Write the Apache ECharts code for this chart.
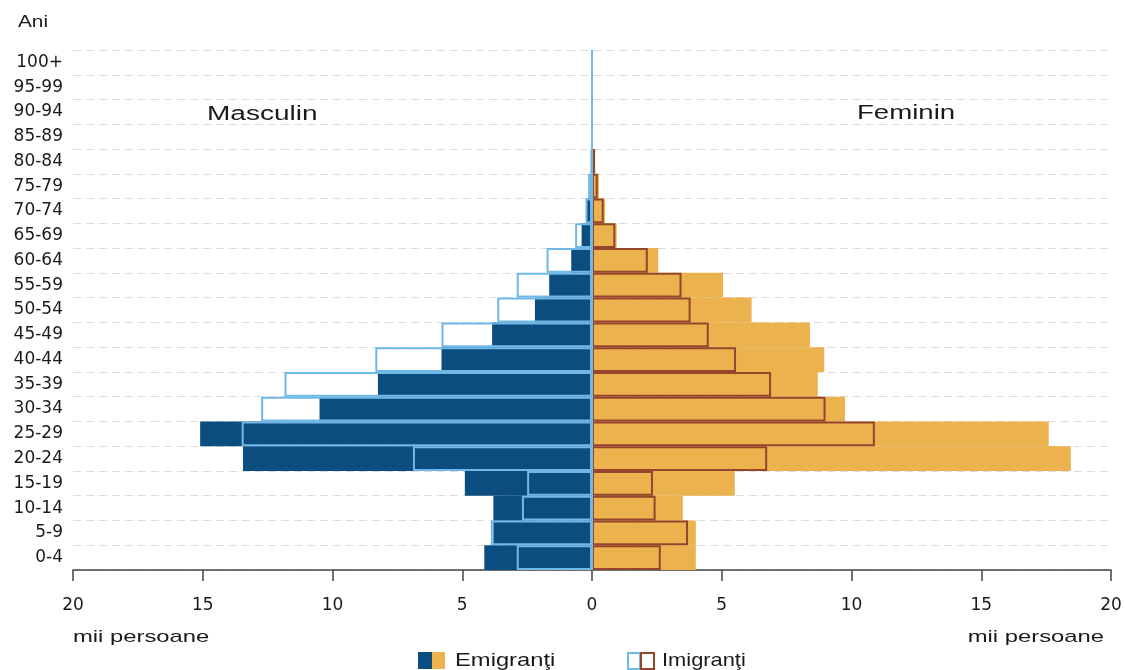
<!DOCTYPE html>
<html>
<head>
<meta charset="utf-8">
<script src="https://cdn.jsdelivr.net/npm/echarts@6/dist/echarts.min.js"></script>
<style>html,body{margin:0;padding:0;background:#fff;}#c{width:1125px;height:670px;}</style>
</head>
<body>
<div id="c"></div>
<script>
var ageGroups = ['0-4','5-9','10-14','15-19','20-24','25-29','30-34','35-39','40-44','45-49','50-54','55-59','60-64','65-69','70-74','75-79','80-84','85-89','90-94','95-99','100+'];
var maleEmigrants   = [4.15, 3.8, 3.8, 4.9, 13.45, 15.1, 10.5, 8.25, 5.8, 3.85, 2.2, 1.65, 0.8, 0.4, 0.22, 0.08, 0.03, 0, 0, 0, 0];
var maleImmigrants  = [2.9, 3.9, 2.7, 2.5, 6.9, 13.5, 12.75, 11.85, 8.35, 5.8, 3.65, 2.9, 1.75, 0.65, 0.25, 0.15, 0.05, 0, 0, 0, 0];
var femaleEmigrants = [4.0, 4.0, 3.5, 5.5, 18.45, 17.6, 9.75, 8.7, 8.95, 8.4, 6.15, 5.05, 2.55, 0.95, 0.5, 0.27, 0.1, 0, 0, 0, 0];
var femaleImmigrants= [2.65, 3.7, 2.45, 2.35, 6.75, 10.9, 9.0, 6.9, 5.55, 4.5, 3.8, 3.45, 2.15, 0.9, 0.45, 0.22, 0.12, 0, 0, 0, 0];
var xTicks = [-20, -15, -10, -5, 0, 5, 10, 15, 20];

var C_DARK = '#0b4d7f', C_ORANGE = '#ebb24d', C_LBLUE = '#70b8e6', C_BROWN = '#95452c';
var FONT = 'Liberation Sans, Arial, sans-serif';
var WFONT = 'DejaVu Sans, Liberation Sans, sans-serif';

function neg(a){ return a.map(function(v){ return -v; }); }

var chart = echarts.init(document.getElementById('c'), null, {renderer:'canvas'});
var common = { type:'bar', barGap:'-100%', barCategoryGap:'0%', animation:false, silent:true };
chart.setOption({
  backgroundColor:'#fff',
  animation:false,
  grid:{ left:73, right:14, top:50, bottom:100, containLabel:false },
  xAxis:{
    type:'value', min:xTicks[0], max:xTicks[xTicks.length-1], interval:5,
    axisLine:{ show:true, onZero:false, lineStyle:{ color:'#444', width:1.5 } },
    axisTick:{ show:true, length:11, inside:false, lineStyle:{ color:'#444', width:1.5 } },
    axisLabel:{ margin:27, fontSize:17, color:'#1a1a1a', fontFamily:WFONT, formatter:function(v){ return Math.abs(v); } },
    splitLine:{ show:false }
  },
  yAxis:{
    type:'category', data:ageGroups, boundaryGap:true,
    axisLine:{ show:false, onZero:false },
    axisTick:{ show:false },
    axisLabel:{ margin:10, fontSize:17, color:'#1a1a1a', fontFamily:WFONT },
    splitLine:{ show:true, lineStyle:{ color:'#dcdcdc', type:[8,5], width:1 } }
  },
  series:[
    Object.assign({}, common, { name:'m_emig', data:neg(maleEmigrants), itemStyle:{ color:C_DARK } }),
    Object.assign({}, common, { name:'f_emig', data:femaleEmigrants, itemStyle:{ color:C_ORANGE } }),
    Object.assign({}, common, { name:'m_imig', data:neg(maleImmigrants), itemStyle:{ color:'rgba(0,0,0,0)', borderColor:C_LBLUE, borderWidth:2 } }),
    Object.assign({}, common, { name:'f_imig', data:femaleImmigrants, itemStyle:{ color:'rgba(0,0,0,0)', borderColor:C_BROWN, borderWidth:2 },
      markLine:{ silent:true, symbol:['none','none'], label:{show:false}, animation:false,
        lineStyle:{ color:C_LBLUE, width:2, type:'solid' }, data:[{ xAxis:0 }] } })
  ],
  graphic:[
    { type:'text', x:18, y:23, scaleX:1.3, style:{ text:'Ani', fontSize:16, fill:'#1a1a1a', fontFamily:FONT, textVerticalAlign:'middle' } },
    { type:'text', x:207, y:114, scaleX:1.4, style:{ text:'Masculin', fontSize:20, fill:'#1a1a1a', fontFamily:FONT, textVerticalAlign:'middle' } },
    { type:'text', x:857, y:113, scaleX:1.38, style:{ text:'Feminin', fontSize:20, fill:'#1a1a1a', fontFamily:FONT, textVerticalAlign:'middle' } },
    { type:'text', x:73, y:637, scaleX:1.4, style:{ text:'mii persoane', fontSize:17, fill:'#1a1a1a', fontFamily:FONT, textVerticalAlign:'middle' } },
    { type:'text', x:1104, y:637, scaleX:1.4, style:{ text:'mii persoane', fontSize:17, fill:'#1a1a1a', fontFamily:FONT, textAlign:'right', textVerticalAlign:'middle' } },
    { type:'rect', shape:{ x:418, y:652, width:14, height:17 }, style:{ fill:C_DARK } },
    { type:'rect', shape:{ x:432, y:652, width:13, height:17 }, style:{ fill:C_ORANGE } },
    { type:'text', x:455, y:661, scaleX:1.25, style:{ text:'Emigranţi', fontSize:19, fill:'#1a1a1a', fontFamily:FONT, textVerticalAlign:'middle' } },
    { type:'rect', shape:{ x:628, y:653, width:12, height:16 }, style:{ fill:'none', stroke:C_LBLUE, lineWidth:2 } },
    { type:'rect', shape:{ x:641, y:653, width:13, height:16 }, style:{ fill:'none', stroke:C_BROWN, lineWidth:2 } },
    { type:'text', x:662, y:661, scaleX:1.15, style:{ text:'Imigranţi', fontSize:19, fill:'#1a1a1a', fontFamily:FONT, textVerticalAlign:'middle' } }
  ]
});
</script>
</body>
</html>
